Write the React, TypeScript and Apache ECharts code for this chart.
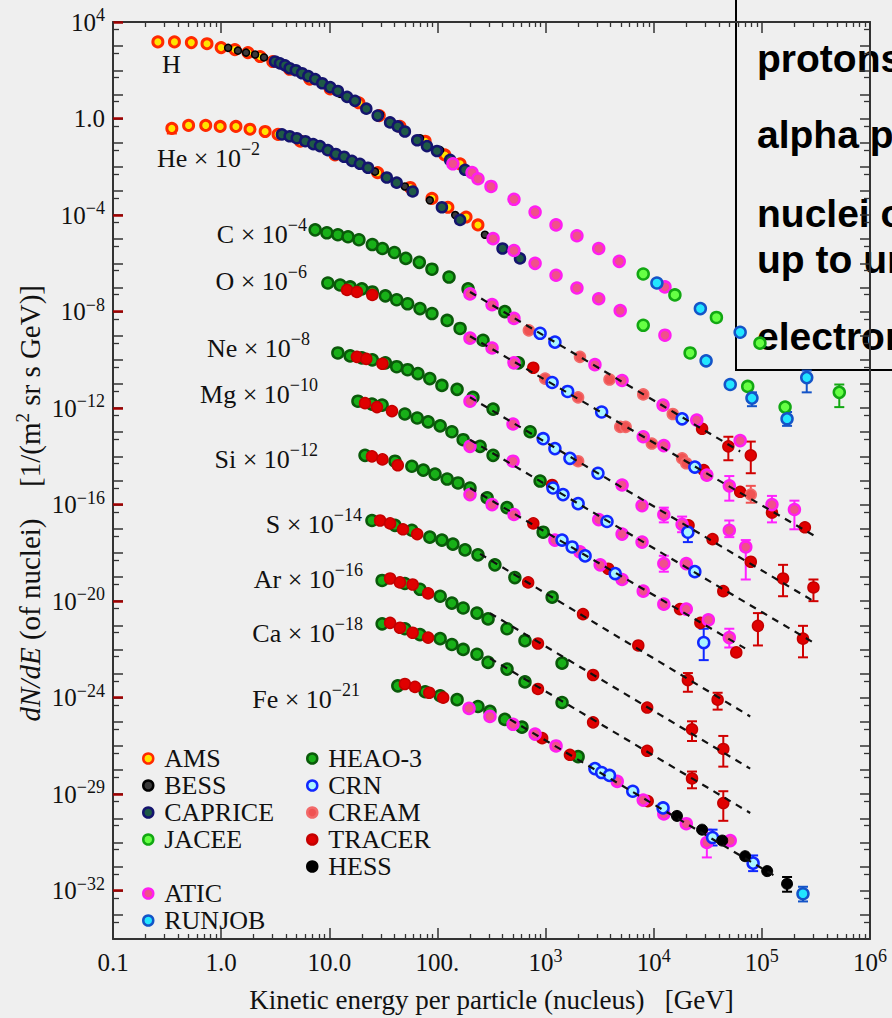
import React, { useEffect, useRef } from 'react';
import * as echarts from 'echarts';

// ---------------- data: [kinetic energy (GeV), dN/dE (scaled)] ----------------
const AMS = [
  [0.26, 1.5e3], [0.37, 1.5e3], [0.53, 1.4e3], [0.74, 1.26e3], [1.0, 870], [1.34, 720], [1.77, 540], [2.29, 370], [3.0, 230],
  [4.3, 110], [6.6, 43], [10.2, 16.8], [18.8, 4.5], [29, 1.32], [45, 0.47], [77, 0.115], [117, 0.031], [162, 0.0133],
  [0.35, 0.39], [0.5, 0.52], [0.72, 0.52], [0.98, 0.47], [1.37, 0.47], [1.85, 0.36], [2.55, 0.29], [3.36, 0.22], [5.4, 0.115],
  [11.3, 0.031], [28, 0.0057], [56, 1.39e-3], [89, 4.9e-4], [125, 2.1e-4], [184, 8.3e-5], [237, 3.9e-5],
];
const BESS = [
  [1.16, 850], [1.43, 650], [1.7, 540], [2.06, 450], [2.49, 340], [5.4, 69], [12.6, 10.5], [29.5, 1.45], [69, 0.153], [106, 0.049],
  [3.9, 0.2], [5.4, 0.139], [9.1, 0.054], [15.6, 0.0193], [26.5, 0.0063], [50, 1.53e-3], [85, 4.1e-4], [146, 1.0e-4], [275, 1.53e-5],
];
const CAPRICE = [
  [3.15, 230], [3.5, 193], [3.9, 160], [4.3, 121], [4.9, 100], [5.6, 75], [6.4, 57], [7.4, 43], [8.6, 29], [10.2, 20], [12, 13.9],
  [14.6, 7.9], [17.3, 5.4], [22, 2.56], [28, 1.32], [36.5, 0.69], [43, 0.47], [50, 0.29], [65, 0.126], [80, 0.072], [99, 0.045],
  [131, 0.0193], [180, 0.0075],
  [3.65, 0.22], [4.3, 0.184], [5.0, 0.153], [6.0, 0.115], [7.1, 0.087], [8.2, 0.072], [9.7, 0.049], [11.5, 0.034], [13.7, 0.026],
  [16.2, 0.0176], [19.2, 0.0133], [22.8, 0.0091], [34, 0.0036], [42, 0.0022], [59, 9.5e-4], [110, 2.1e-4], [162, 6.3e-5],
  [400, 4.1e-6], [580, 1.6e-6],
];
const JACEE = [
  [8000, 3.6e-7], [1.57e4, 4.9e-8], [3.8e4, 5.7e-9], [9.6e4, 4.9e-10], [5.2e5, 4.5e-12],
  [8000, 2.7e-9], [2.17e4, 1.93e-10], [7.4e4, 7.9e-12], [1.64e5, 1.1e-12],
];
const RUNJOB = [
  [1.07e4, 1.53e-7], [2.7e4, 1.33e-8], [6.3e4, 1.39e-9], [2.6e5, 1.84e-11],
  [3.05e4, 9.1e-11], [5.1e4, 9.5e-12], [8.1e4, 2.6e-12], [1.71e5, 3.6e-13],
  [2.4e5, 7.5e-33],
];
const ATIC = [
  [139, 0.0133], [209, 0.0057], [237, 0.0032], [313, 0.00153], [510, 4.5e-4], [800, 1.33e-4], [1250, 3.9e-5], [1950, 1.39e-5],
  [3100, 4.1e-6], [4800, 1.21e-6], [1.27e4, 1.05e-7],
  [327, 1.05e-5], [510, 3.4e-6], [800, 1.0e-6], [1250, 3.2e-7], [1950, 9.5e-8], [3100, 3.4e-8], [4900, 1.1e-8], [1.27e4, 1.05e-9],
  [200, 5.4e-8], [320, 1.93e-8], [510, 5.2e-9], [2860, 6.3e-11], [5100, 1.39e-11], [1.22e4, 1.33e-12], [2.5e4, 3.2e-13], [6.3e4, 4.5e-14],
  [200, 7.9e-10], [320, 3.1e-10], [510, 7.5e-11], [8000, 6.5e-14], [1.24e4, 2.8e-14], [3.1e4, 1.67e-15], [5.0e4, 6.0e-16],
  [1.24e5, 1.0e-16], [2.0e5, 6.3e-17],
  [200, 1.93e-12], [500, 2.2e-13], [5100, 6.5e-16], [7800, 9.1e-17], [1.24e4, 3.9e-17], [1.83e4, 1.53e-17], [5.0e4, 8.7e-18], [7.1e4, 1.76e-18],
  [200, 2.6e-14], [500, 6.3e-15], [3100, 2.4e-17], [5100, 6.0e-18], [7800, 2.8e-18], [1.24e4, 3.6e-19], [2.0e4, 3.6e-19],
  [200, 2.6e-16], [320, 1.0e-16], [510, 3.9e-17], [1220, 3.4e-18], [2080, 1.1e-18], [3200, 3.2e-19], [5100, 7.9e-20], [8000, 2.6e-20],
  [1.24e4, 7.5e-21], [2.0e4, 4.7e-21], [3.2e4, 1.67e-21], [5.0e4, 3.1e-22],
  [196, 3.6e-25], [306, 1.67e-25], [500, 7.9e-26], [800, 3.1e-26], [1250, 1.0e-26], [4600, 3.4e-28], [8000, 5.7e-29], [1.24e4, 1.53e-29],
  [2.0e4, 6.0e-30], [3.1e4, 1.0e-30], [5.1e4, 1.2e-30],
];
const HEAO3 = [
  [7.4, 2.44e-5], [9.5, 1.84e-5], [12, 1.53e-5], [14.9, 1.26e-5], [18.8, 9.5e-6], [25, 6.0e-6], [31, 4.1e-6], [40, 2.8e-6], [51, 1.6e-6],
  [68, 1.1e-6], [89, 5.7e-7], [128, 2.7e-7], [192, 8.7e-8], [420, 1.0e-8],
  [9.7, 1.53e-7], [12.6, 1.26e-7], [15.6, 1.05e-7], [20, 8.7e-8], [25, 6.5e-8], [33, 4.5e-8], [42, 3.1e-8], [53, 2.1e-8], [69, 1.33e-8],
  [89, 8.3e-9], [123, 4.3e-9], [162, 2.0e-9], [264, 6.5e-10], [560, 7.5e-11],
  [12, 1.93e-10], [15.6, 1.46e-10], [20, 1.21e-10], [25, 1.0e-10], [33, 7.5e-11], [42, 5.2e-11], [53, 3.9e-11], [66, 2.7e-11],
  [85, 1.67e-11], [110, 8.7e-12], [152, 6.0e-12], [213, 2.8e-12], [327, 9.1e-13], [720, 1.05e-13],
  [18.4, 1.93e-12], [24.8, 1.46e-12], [30.8, 1.33e-12], [50, 5.7e-13], [65, 3.9e-13], [82, 2.7e-13], [106, 1.84e-13], [136, 1.05e-13],
  [173, 4.9e-14], [248, 2.6e-14], [327, 1.1e-14], [890, 9.5e-16],
  [21.4, 1.1e-14], [40.5, 6.3e-15], [58, 3.9e-15], [74, 2.7e-15], [95, 1.84e-15], [123, 1.15e-15], [155, 7.9e-16], [200, 4.9e-16],
  [288, 1.93e-16], [440, 7.5e-17], [950, 7.2e-18],
  [24.8, 2.2e-17], [40.5, 1.39e-17], [58, 8.7e-18], [85, 4.5e-18], [110, 3.4e-18], [139, 2.3e-18], [180, 1.33e-18], [237, 8.3e-19],
  [340, 3.2e-19], [520, 9.5e-20], [1150, 1.46e-20],
  [30.8, 7.2e-20], [50, 5.4e-20], [69, 3.1e-20], [106, 1.6e-20], [136, 8.3e-21], [173, 5.2e-21], [232, 3.2e-21], [294, 1.84e-21],
  [440, 7.2e-22], [645, 2.3e-22], [1420, 2.7e-23],
  [30.8, 1.15e-21], [50, 7.2e-22], [69, 4.1e-22], [106, 2.8e-22], [136, 1.6e-22], [173, 1.0e-22], [232, 6.3e-23], [294, 2.9e-23],
  [440, 1.53e-23], [645, 4.5e-24], [1420, 6.3e-25],
  [43, 3.1e-24], [77, 1.76e-24], [106, 1.2e-24], [152, 8.3e-25], [237, 4.3e-25], [306, 2.7e-25], [420, 1.26e-25], [605, 6.0e-26], [2000, 3.6e-27],
];
const TRACER = [
  [2.8e4, 1.39e-13], [4.9e4, 2.6e-14], [7.9e4, 1.1e-14],
  [14.6, 7.9e-8], [18, 6.5e-8], [25, 4.9e-8], [770, 4.7e-11], [2.9e4, 2.7e-15], [6.3e4, 3.4e-16], [1.24e5, 4.7e-17], [2.5e5, 1.15e-17],
  [18, 1.33e-10], [22, 1.1e-10], [31, 6.9e-11], [2.1e4, 1.39e-17], [3.5e4, 3.7e-18], [7.9e4, 4.3e-19], [1.57e5, 8.7e-20], [3.0e5, 3.7e-20],
  [21.4, 1.6e-12], [27.6, 1.1e-12], [38, 7.5e-13], [1150, 6.5e-16], [4.4e4, 2.6e-20], [9.2e4, 9.5e-22], [2.4e5, 2.8e-22],
  [24.8, 1.0e-14], [31, 7.5e-15], [43, 4.3e-15], [770, 1.67e-17], [3800, 2.2e-19], [1.75e4, 4.7e-21], [2.7e4, 1.26e-21], [5.8e4, 7.5e-23],
  [29.5, 2.2e-17], [36.5, 1.67e-17], [48, 9.5e-18], [65, 6.0e-18], [690, 6.0e-20], [2220, 2.9e-21], [7200, 1.46e-22], [2.07e4, 5.4e-24], [3.9e4, 8.3e-25],
  [36.5, 8.7e-20], [45, 6.0e-20], [59, 4.9e-20], [82, 2.1e-20], [850, 1.76e-22], [2750, 8.7e-24], [8700, 3.9e-25], [2.26e4, 4.9e-26], [4.4e4, 7.5e-27],
  [36.5, 1.26e-21], [45, 7.9e-22], [59, 4.9e-22], [82, 3.1e-22], [850, 2.3e-24], [2750, 9.5e-26], [8700, 6.3e-27], [2.26e4, 4.5e-28], [4.4e4, 4.3e-29],
  [50, 3.7e-24], [62, 2.8e-24], [84, 1.6e-24], [113, 1.0e-24], [930, 2.1e-26], [1680, 4.3e-27], [8800, 5.2e-29],
];
const CREAM = [
  [700, 1.67e-9], [2080, 1.33e-10], [3900, 1.53e-11], [8000, 3.7e-12], [1.5e4, 5.7e-13],
  [990, 1.67e-11], [2000, 2.8e-12], [4900, 1.67e-13], [5500, 1.67e-13], [9600, 3.4e-14], [1.83e4, 8.3e-15], [2.0e4, 5.2e-15], [7.9e4, 2.6e-16],
  [2000, 6.3e-15],
];
const CRN = [
  [890, 1.26e-9], [1220, 5.4e-10], [1.83e4, 3.6e-13],
  [1150, 1.15e-11], [1600, 4.9e-12], [3300, 6.9e-13], [2.4e4, 3.6e-15],
  [950, 5.4e-14], [1220, 2.1e-14], [1680, 8.3e-15], [3050, 2.0e-15], [2.07e4, 7.2e-18],
  [1170, 4.9e-16], [1450, 2.6e-16], [2000, 1.1e-16], [3700, 2.0e-17], [2.4e4, 1.67e-19],
  [1420, 3.4e-18], [1760, 1.76e-18], [2320, 7.5e-19], [4400, 1.39e-19], [2.9e4, 1.93e-22],
  [2860, 1.15e-27], [3300, 7.9e-28], [3900, 6.0e-28], [6400, 1.33e-28], [1.22e4, 2.7e-29], [3.5e4, 1.6e-30], [8.3e4, 1.39e-31],
];
const HESS = [[1.64e4, 1.26e-29], [2.8e4, 3.4e-30], [4.3e4, 1.2e-30], [7.0e4, 2.7e-31], [1.12e5, 6.5e-32], [1.71e5, 1.93e-32]];

// error bars: [energy, low, high]
const AMS_ERR = [[0.35, 0.24, 0.45]];
const ATIC_ERR = [
  [5.0e4, 1.46e-16, 1.53e-15], [1.24e5, 1.84e-17, 2.3e-16], [2.0e5, 9.5e-18, 1.46e-16], [1.24e4, 1.84e-17, 7.5e-17],
  [1.83e4, 7.2e-18, 3.2e-17], [5.0e4, 4.5e-18, 2.2e-17], [7.1e4, 7.9e-20, 3.4e-18], [1.24e4, 1.66e-19, 7.6e-19],
  [5.0e4, 1.2e-22, 7.2e-22], [3.1e4, 2.4e-31, 3.4e-30],
];
const TRACER_ERR = [
  [4.9e4, 6.9e-15, 6.5e-14], [7.9e4, 2.0e-15, 4.1e-14], [1.57e5, 1.6e-20, 3.2e-19], [3.0e5, 1e-20, 7.9e-20],
  [9.2e4, 1.46e-22, 3.2e-21], [2.4e5, 4.7e-23, 9.5e-22], [2.07e4, 1.76e-24, 1.05e-23], [3.9e4, 3.2e-25, 1.6e-24],
  [2.26e4, 1.6e-26, 1.05e-25], [4.4e4, 1.39e-27, 2.6e-26], [2.26e4, 1.76e-28, 8.7e-28], [4.4e4, 7.9e-30, 1.33e-28],
];
const CREAM_ERR = [[7.9e4, 1.2e-16, 6.0e-16]];
const CRN_ERR = [[2.07e4, 2.8e-18, 1.53e-17], [2.9e4, 3.6e-23, 7.2e-22], [3.5e4, 7.5e-31, 3.4e-30], [8.3e4, 6.5e-32, 2.9e-31]];
const RUNJOB_ERR = [[2.6e5, 4.5e-12, 3.6e-11], [8.1e4, 1.2e-12, 4.5e-12], [1.71e5, 1.84e-13, 6.9e-13], [2.4e5, 3.6e-33, 1.46e-32]];
const JACEE_ERR = [[5.2e5, 1.1e-12, 9.5e-12]];
const HESS_ERR = [[1.71e5, 9.1e-33, 3.7e-32]];

// power-law fits (dashed)
const FIT_C = [[200, 6.5e-8], [6.3e4, 1.6e-14]];
const FIT_O = [[200, 9.5e-10], [3.0e5, 5.4e-18]];
const FIT_NE = [[200, 2.8e-12], [2.9e5, 1.1e-20]];
const FIT_MG = [[200, 4.9e-14], [3.0e5, 1.93e-22]];
const FIT_SI = [[200, 4.9e-16], [7.0e4, 1.1e-22]];
const FIT_S = [[248, 9.1e-19], [7.8e4, 1.67e-25]];
const FIT_AR = [[306, 3.2e-21], [7.8e4, 1.15e-27]];
const FIT_CA = [[306, 4.3e-23], [7.8e4, 1.67e-29]];
const FIT_FE = [[469, 1.26e-25], [1.32e5, 4.1e-32]];

// axis ticks / labels (log10 values)
const X_MAJOR = [-1, 0, 1, 2, 3, 4, 5, 6];
const X_LABELS = ['0.1', '1.0', '10.0', '100.', '10{s|3}', '10{s|4}', '10{s|5}', '10{s|6}'];
const Y_LABEL_VALUES = [4, 0, -4, -8, -12, -16, -20, -24, -28, -32];
const Y_LABELS = ['10{s|4}', '1.0', '10{s|−4}', '10{s|−8}', '10{s|−12}', '10{s|−16}', '10{s|−20}', '10{s|−24}', '10{s|−29}', '10{s|−32}'];

const ELEMENT_LABELS = ['H', '{b|He × 10}{s|−2}', '{b|C × 10}{s|−4}', '{b|O × 10}{s|−6}', '{b|Ne × 10}{s|−8}', '{b|Mg × 10}{s|−10}',
  '{b|Si × 10}{s|−12}', '{b|S × 10}{s|−14}', '{b|Ar × 10}{s|−16}', '{b|Ca × 10}{s|−18}', '{b|Fe × 10}{s|−21}'];
const BOX_LINES = ['protons', 'alpha particles', 'nuclei of heavier elements', 'up to uranium', 'electrons'];

// ---------------- layout / style ----------------
const W = 892, H = 1018;
const FONT = "'Liberation Serif', 'Times New Roman', serif";
const SANS = "'Liberation Sans', Arial, sans-serif";
const L = Math.log10;
const toXY = (arr: number[][]) => arr.map(([e, f]) => [L(e), L(f)]);

const LABEL_POS = [
  [162, 73, 'left'], [157, 167, 'left'], [307, 243, 'right'], [307, 290, 'right'], [310, 357, 'right'], [318, 403, 'right'],
  [318, 468, 'right'], [362, 533, 'right'], [363, 588, 'right'], [363, 642, 'right'], [360, 708, 'right'],
];
const BOX_BASELINES = [72, 148, 227, 273, 350];

const STYLE: Record<string, any> = {
  AMS: { size: 10, fill: '#ffe400', border: '#ff2a00', bw: 3 },
  BESS: { size: 7, fill: '#3a3a3a', border: '#000000', bw: 1.5 },
  CAPRICE: { size: 10, fill: '#1e5a46', border: '#14146e', bw: 2.5 },
  JACEE: { size: 11, fill: '#66ff44', border: '#12a812', bw: 2.5 },
  ATIC: { size: 11, fill: '#f0508a', border: '#ff1ef0', bw: 2.5 },
  RUNJOB: { size: 11, fill: '#22e6ff', border: '#1454c8', bw: 2.5 },
  'HEAO-3': { size: 11, fill: '#18b018', border: '#0a5a0a', bw: 2.5 },
  CRN: { size: 11, fill: '#aaf6ff', border: '#1028ff', bw: 2.5 },
  CREAM: { size: 11, fill: '#f05252', border: '#f26a6a', bw: 1.5 },
  TRACER: { size: 11, fill: '#e00000', border: '#c40000', bw: 1.5 },
  HESS: { size: 11, fill: '#000000', border: '#000000', bw: 1 },
};

const ORDER: [string, number[][]][] = [
  ['AMS', AMS], ['BESS', BESS], ['CAPRICE', CAPRICE], ['HEAO-3', HEAO3], ['TRACER', TRACER], ['CREAM', CREAM],
  ['ATIC', ATIC], ['CRN', CRN], ['JACEE', JACEE], ['RUNJOB', RUNJOB], ['HESS', HESS],
];
const ERRS: [string, number[][], string][] = [
  ['AMS', AMS_ERR, '#ff2a00'], ['ATIC', ATIC_ERR, '#ff22ff'], ['TRACER', TRACER_ERR, '#d00000'], ['CREAM', CREAM_ERR, '#f05252'],
  ['CRN', CRN_ERR, '#1028ff'], ['RUNJOB', RUNJOB_ERR, '#1454c8'], ['JACEE', JACEE_ERR, '#12a812'], ['HESS', HESS_ERR, '#000000'],
];
const FITS = [FIT_C, FIT_O, FIT_NE, FIT_MG, FIT_SI, FIT_S, FIT_AR, FIT_CA, FIT_FE];

const X_MINOR: number[] = [];
for (let n = -1; n < 6; n++) for (let k = 2; k <= 9; k++) X_MINOR.push(n + Math.log10(k));
const Y_DEC: number[] = [];
for (let n = -34; n <= 4; n++) Y_DEC.push(n);
const Y_HALF: number[] = [];
for (let n = -33; n <= 4; n++) Y_HALF.push(n - Math.log10(2));

const near = (arr: number[], v: number) => arr.findIndex((t) => Math.abs(t - v) < 1e-6);

function tickAxis(position: string, min: number, max: number, values: number[], length: number, color: string, width: number, line: boolean) {
  return {
    type: 'value', position, min, max, interval: 1,
    splitLine: { show: false },
    axisLine: { show: line, onZero: false, lineStyle: { color: '#333', width: 2 } },
    axisTick: { show: true, inside: true, length, customValues: values, lineStyle: { color, width } },
    axisLabel: { show: false },
  };
}

function errSeries(name: string, data: number[][], color: string) {
  return {
    type: 'custom', name: name + ' error', silent: true, z: 1,
    data: data.map(([e, lo, hi]) => [L(e), L(lo), L(hi)]),
    encode: { x: 0, y: [1, 2] },
    renderItem: (params: any, api: any) => {
      const x = api.value(0);
      const a = api.coord([x, api.value(1)]);
      const b = api.coord([x, api.value(2)]);
      const st = { stroke: color, lineWidth: 2 };
      return {
        type: 'group',
        children: [
          { type: 'line', shape: { x1: a[0], y1: a[1], x2: b[0], y2: b[1] }, style: st },
          { type: 'line', shape: { x1: a[0] - 5, y1: a[1], x2: a[0] + 5, y2: a[1] }, style: st },
          { type: 'line', shape: { x1: b[0] - 5, y1: b[1], x2: b[0] + 5, y2: b[1] }, style: st },
        ],
      };
    },
  };
}

function buildOption() {
  const supRich = { s: { fontSize: 18, fontFamily: FONT, color: '#111', verticalAlign: 'top', lineHeight: 18 } };
  const xMain: any = tickAxis('bottom', -1, 6, X_MAJOR, 11, '#333', 1.5, true);
  xMain.axisLabel = {
    show: true, customValues: X_MAJOR, margin: 8, fontSize: 25, fontFamily: FONT, color: '#111', lineHeight: 30,
    formatter: (v: number) => { const i = near(X_MAJOR, v); return i >= 0 ? X_LABELS[i] : ''; },
    rich: supRich,
  };
  xMain.name = 'Kinetic energy per particle (nucleus)   [GeV]';
  xMain.nameLocation = 'middle';
  xMain.nameGap = 47;
  xMain.nameTextStyle = { fontFamily: FONT, fontSize: 27, color: '#111' };

  const yRed: any = tickAxis('left', -34, 4, Y_LABEL_VALUES, 10, '#a00000', 2.5, false);
  yRed.axisLabel = {
    show: true, customValues: Y_LABEL_VALUES, margin: 8, fontSize: 25, fontFamily: FONT, color: '#111', lineHeight: 32,
    formatter: (v: number) => { const i = near(Y_LABEL_VALUES, v); return i >= 0 ? Y_LABELS[i] : ''; },
    rich: supRich,
  };

  const series: any[] = [];
  ERRS.forEach(([n, d, c]) => series.push(errSeries(n, d, c)));
  ORDER.forEach(([name, d]) => {
    const s = STYLE[name];
    series.push({
      type: 'scatter', name, data: toXY(d), symbol: 'circle', symbolSize: s.size, z: 2,
      itemStyle: { color: s.fill, borderColor: s.border, borderWidth: s.bw, opacity: 1 },
      emphasis: { disabled: true },
    });
  });
  FITS.forEach((f, i) => series.push({
    type: 'line', name: 'fit ' + i, data: toXY(f), symbol: 'none', silent: true, z: 3,
    lineStyle: { color: '#111', width: 2.2, type: [7, 6] },
  }));

  const graphic: any[] = [];
  ELEMENT_LABELS.forEach((t, i) => {
    const [x, y, align] = LABEL_POS[i] as any;
    graphic.push({
      type: 'text', x, y: y - 9, silent: true,
      style: {
        text: t, align, verticalAlign: 'middle', fontFamily: FONT, fontSize: 26, fill: '#111', lineHeight: 36,
        rich: {
          b: { fontFamily: FONT, fontSize: 26, fill: '#111', lineHeight: 36 },
          s: { fontFamily: FONT, fontSize: 18, fill: '#111', lineHeight: 18, verticalAlign: 'top' },
        },
      },
    });
  });
  // y-axis title
  graphic.push({
    type: 'text', x: 30, y: 620, rotation: Math.PI / 2, silent: true,
    style: {
      text: '{i|dN/dE} (of nuclei)', align: 'center', verticalAlign: 'middle', fontFamily: FONT, fontSize: 29, fill: '#111',
      rich: { i: { fontFamily: FONT, fontSize: 29, fontStyle: 'italic', fill: '#111' } },
    },
  });
  graphic.push({
    type: 'text', x: 30, y: 386, rotation: Math.PI / 2, silent: true,
    style: {
      text: '[1/(m{s|2} sr s GeV)]', align: 'center', verticalAlign: 'middle', fontFamily: FONT, fontSize: 29, fill: '#111', lineHeight: 34,
      rich: { s: { fontFamily: FONT, fontSize: 19, fill: '#111', verticalAlign: 'top', lineHeight: 19 } },
    },
  });
  // top-right box
  graphic.push({ type: 'rect', silent: true, shape: { x: 736, y: -4, width: 220, height: 374 }, style: { fill: 'none', stroke: '#000', lineWidth: 2 } });
  BOX_LINES.forEach((t, i) => graphic.push({
    type: 'text', x: 757, y: BOX_BASELINES[i] - 14, silent: true,
    style: { text: t, align: 'left', verticalAlign: 'middle', fontFamily: SANS, fontWeight: 'bold', fontSize: 39, fill: '#000' },
  }));

  const legendBase = {
    orient: 'vertical', padding: 0, itemGap: 0, itemWidth: 22, itemHeight: 10, selectedMode: false, icon: 'circle',
    textStyle: { fontFamily: FONT, fontSize: 26, color: '#111', lineHeight: 27 },
    itemStyle: { borderWidth: 2.5 },
  };

  return {
    animation: false,
    backgroundColor: '#efefef',
    textStyle: { fontFamily: FONT },
    grid: { left: 113, top: 22, width: 757, height: 931, containLabel: false },
    xAxis: [
      xMain,
      tickAxis('bottom', -1, 6, X_MINOR, 5, '#333', 1.3, false),
      tickAxis('top', -1, 6, X_MAJOR, 11, '#333', 1.5, true),
      tickAxis('top', -1, 6, X_MINOR, 5, '#333', 1.3, false),
    ],
    yAxis: [
      tickAxis('left', -34, 4, Y_DEC, 10, '#333', 1.5, true),
      tickAxis('left', -34, 4, Y_HALF, 6, '#333', 1.3, false),
      yRed,
      tickAxis('right', -34, 4, Y_DEC, 10, '#333', 1.5, true),
      tickAxis('right', -34, 4, Y_HALF, 6, '#333', 1.3, false),
    ],
    legend: [
      { ...legendBase, data: ['AMS', 'BESS', 'CAPRICE', 'JACEE'], left: 142, top: 745 },
      { ...legendBase, data: ['ATIC', 'RUNJOB'], left: 142, top: 880 },
      { ...legendBase, data: ['HEAO-3', 'CRN', 'CREAM', 'TRACER', 'HESS'], left: 306, top: 745 },
    ],
    series,
    graphic,
  };
}

export default function App() {
  const ref = useRef<HTMLDivElement>(null);
  useEffect(() => {
    const chart = echarts.init(ref.current as HTMLDivElement, null, { renderer: 'svg' });
    chart.setOption(buildOption() as any);
    return () => chart.dispose();
  }, []);
  return <div ref={ref} style={{ position: 'fixed', left: 0, top: 0, width: W, height: H }} />;
}
